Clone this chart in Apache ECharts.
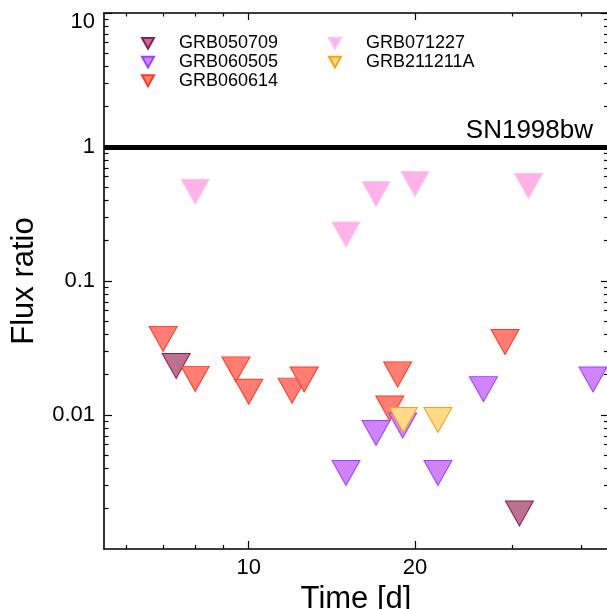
<!DOCTYPE html>
<html>
<head>
<meta charset="utf-8">
<script src="https://cdn.jsdelivr.net/npm/echarts@6/dist/echarts.min.js"></script>
<style>
  html, body { margin: 0; padding: 0; background: #fff; }
  #chart { width: 607px; height: 609px; }
</style>
</head>
<body>
<div id="chart"></div>
<script>
// Upper limits on the flux ratio relative to SN1998bw, per burst
const grb050709Time = [7.39, 30.9];
const grb050709Flux = [0.0232, 0.00184];

const grb060505Time = [15.0, 17.0, 19.0, 22.0, 26.6, 42.0];
const grb060505Flux = [0.00369, 0.00734, 0.00835, 0.00369, 0.0156, 0.0184];

const grb060614Time = [7.0, 8.0, 9.48, 10.0, 11.98, 12.6, 18.0, 18.6, 29.1];
const grb060614Flux = [0.0370, 0.0186, 0.0219, 0.0149, 0.0152, 0.0184, 0.0112, 0.0201, 0.0351];

const grb071227Time = [8.0, 15.0, 17.0, 20.0, 32.1];
const grb071227Flux = [0.464, 0.222, 0.446, 0.530, 0.512];

const grb211211aTime = [19.05, 22.0];
const grb211211aFlux = [0.00918, 0.00918];

const referenceLevel = 1;
const referenceName = 'SN1998bw';

// Axis ticks
const xMajorTicks = [10, 20];
const xMinorTicks = [6, 7, 8, 9, 30, 40];
const yMajorTicks = [0.01, 0.1, 1, 10];
const yMinorTicks = [];
[0.001, 0.01, 0.1, 1].forEach(function (d) {
  for (let k = 2; k <= 9; k++) yMinorTicks.push(Number((d * k).toPrecision(2)));
});

const xRange = [5.47, 44.7];
const yRange = [0.001, 10];

const FONT = '"Liberation Sans", Helvetica, Arial, sans-serif';
const DOWN = 'path://M0,0 L20,0 L10,18 Z';

function pairs(t, f) { return t.map(function (v, i) { return [v, f[i]]; }); }

function tickAxis(kind, position, values, len, extra) {
  const ax = {
    type: 'log', logBase: 10,
    min: kind === 'x' ? xRange[0] : yRange[0],
    max: kind === 'x' ? xRange[1] : yRange[1],
    position: position,
    axisLine: { show: false },
    axisTick: { show: true, inside: true, length: len, customValues: values,
                lineStyle: { color: '#000', width: 1.2 } },
    axisLabel: { show: false },
    splitLine: { show: false },
    minorTick: { show: false },
    minorSplitLine: { show: false }
  };
  return Object.assign(ax, extra || {});
}

const burstStyle = {
  GRB050709: { fill: '#bc7191', edge: '#8a1f4f' },
  GRB060505: { fill: '#d183f9', edge: '#a040ff' },
  GRB060614: { fill: '#ff7d73', edge: '#ff3a1f' },
  GRB071227: { fill: '#ffb2e8', edge: '#ffc4ee' },
  GRB211211A: { fill: '#ffda8a', edge: '#ffa010' }
};

function burst(name, t, f) {
  const s = burstStyle[name];
  return {
    name: name, type: 'scatter', xAxisIndex: 0, yAxisIndex: 0,
    symbol: DOWN, symbolSize: [28, 25],
    itemStyle: { color: s.fill, borderColor: s.edge, borderWidth: 1, opacity: 1 },
    emphasis: { disabled: true },
    data: pairs(t, f)
  };
}

const axisLineStyle = { show: true, lineStyle: { color: '#000', width: 1.6 } };

const legendText = { color: '#000', fontSize: 18, fontFamily: FONT, lineHeight: 18.7,
                     padding: [0, 0, 0, 20] };

const option = {
  animation: false,
  backgroundColor: '#fff',
  grid: { left: 104, right: -1, top: 13, bottom: 60, containLabel: false,
          outerBoundsMode: 'none' },
  xAxis: [
    tickAxis('x', 'bottom', xMajorTicks, 8, {
      axisLine: axisLineStyle,
      axisLabel: { show: true, customValues: xMajorTicks, margin: 8,
                   color: '#000', fontSize: 22, fontFamily: FONT },
      name: 'Time [d]', nameLocation: 'middle', nameGap: 30,
      nameTextStyle: { color: '#000', fontSize: 31, fontFamily: FONT }
    }),
    tickAxis('x', 'bottom', xMinorTicks, 4),
    tickAxis('x', 'top', xMajorTicks, 7, { axisLine: axisLineStyle }),
    tickAxis('x', 'top', xMinorTicks, 3.5)
  ],
  yAxis: [
    tickAxis('y', 'left', yMajorTicks, 8, {
      axisLine: axisLineStyle,
      axisLabel: { show: true, customValues: yMajorTicks, margin: 9,
                   color: '#000', fontSize: 22, fontFamily: FONT,
                   formatter: function (v) {
                     const s = String(Number(v.toPrecision(3)));
                     return v >= 10 ? '{top|' + s + '}' : s;
                   },
                   rich: { top: { fontSize: 22, fontFamily: FONT, color: '#000', padding: [18, 0, 0, 0] } } },
      name: 'Flux ratio', nameLocation: 'middle', nameGap: 64, nameRotate: 90,
      nameTextStyle: { color: '#000', fontSize: 31, fontFamily: FONT }
    }),
    tickAxis('y', 'left', yMinorTicks, 4.5),
    tickAxis('y', 'right', yMajorTicks, 7, { axisLine: axisLineStyle }),
    tickAxis('y', 'right', yMinorTicks, 4)
  ],
  legend: [
    {
      data: ['GRB050709', 'GRB060505', 'GRB060614'],
      orient: 'vertical', left: 136, top: 29,
      icon: DOWN, itemWidth: 12, itemHeight: 11, itemGap: 0,
      selectedMode: false, textStyle: legendText
    },
    {
      data: ['GRB071227', 'GRB211211A'],
      orient: 'vertical', left: 323, top: 29,
      icon: DOWN, itemWidth: 12, itemHeight: 11, itemGap: 0,
      selectedMode: false, textStyle: legendText
    }
  ],
  series: [
    {
      name: referenceName, type: 'scatter', xAxisIndex: 0, yAxisIndex: 0, data: [],
      markLine: {
        silent: true, symbol: 'none', animation: false,
        lineStyle: { color: '#000', width: 5, type: 'solid' },
        label: { show: true, formatter: referenceName, position: 'insideEndTop',
                 color: '#000', fontSize: 26, fontFamily: FONT, distance: [15, 3] },
        emphasis: { disabled: true },
        data: [{ yAxis: referenceLevel }]
      }
    },
    burst('GRB050709', grb050709Time, grb050709Flux),
    burst('GRB060614', grb060614Time, grb060614Flux),
    burst('GRB060505', grb060505Time, grb060505Flux),
    burst('GRB071227', grb071227Time, grb071227Flux),
    burst('GRB211211A', grb211211aTime, grb211211aFlux)
  ]
};

const chart = echarts.init(document.getElementById('chart'), null, { renderer: 'canvas' });
chart.setOption(option);
</script>
</body>
</html>
